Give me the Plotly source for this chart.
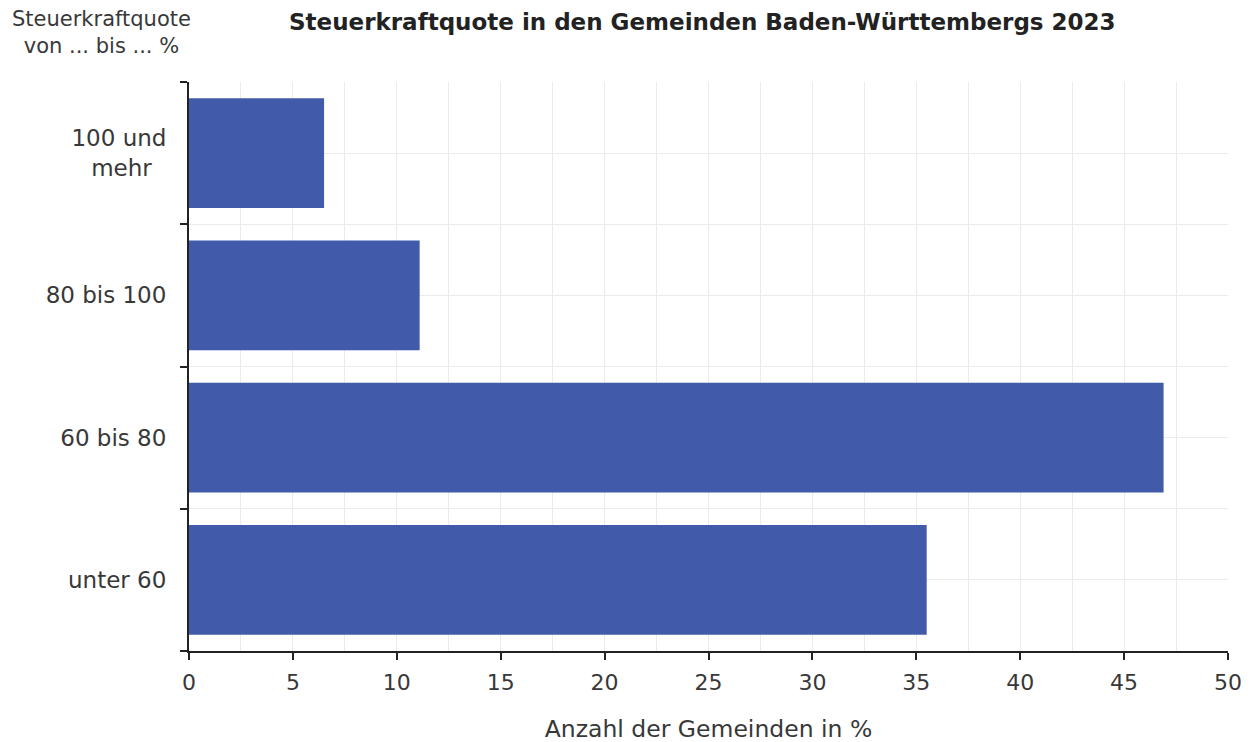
import plotly.graph_objects as go

categories = ["unter 60", "60 bis 80", "80 bis 100", "100 und<br>mehr\u00a0\u00a0"]
values = [35.5, 46.9, 11.1, 6.5]
x_ticks = [0, 5, 10, 15, 20, 25, 30, 35, 40, 45, 50]

positions = list(range(len(categories)))
boundaries = [p - 0.5 for p in positions] + [positions[-1] + 0.5]

FONT = "DejaVu Sans"
TXT = "#383838"
W, H = 1258, 742
OX, OY = 6, 8  # page offset observed in render

L, R, T, B = 187 - OX, 38, 82 - OY, 97
PW = W - L - R

fig = go.Figure(go.Bar(
    x=values, y=positions, orientation="h",
    marker=dict(color="#415AA9", line=dict(width=0)),
    width=0.77, hoverinfo="x+y",
))

fig.update_layout(
    width=W, height=H,
    margin=dict(l=L, r=R, t=T, b=B),
    paper_bgcolor="white", plot_bgcolor="white",
    font=dict(family=FONT, size=22, color=TXT),
    showlegend=False,
)

fig.update_xaxes(
    range=[0, 50], tickvals=x_ticks, ticks="outside", ticklen=7, tickwidth=2,
    tickcolor="#222222", showline=True, linecolor="#222222", linewidth=2,
    showgrid=True, gridcolor="#ebebeb", gridwidth=1, zeroline=False,
    minor=dict(dtick=2.5, showgrid=True, gridcolor="#ebebeb", gridwidth=1, ticks=""),
    tickfont=dict(size=22, color=TXT), ticklabelstandoff=4,
    title=dict(text="Anzahl der Gemeinden in %", font=dict(size=23.5, color=TXT), standoff=26),
)

fig.update_yaxes(
    range=[boundaries[0], boundaries[-1]], tickvals=positions, ticktext=categories,
    ticks="", showline=True, linecolor="#222222", linewidth=2,
    showgrid=True, gridcolor="#ebebeb", gridwidth=1, zeroline=False,
    minor=dict(tickvals=boundaries, ticks="outside", ticklen=7, tickwidth=2,
               tickcolor="#222222", showgrid=True, gridcolor="#ebebeb", gridwidth=1),
    tickfont=dict(size=23, color=TXT), ticklabelstandoff=16,
)

fig.add_annotation(
    text="<b>Steuerkraftquote in den Gemeinden Baden-Württembergs 2023</b>",
    xref="paper", yref="paper", x=(700 - 187) / PW, y=1, yshift=60,
    xanchor="center", yanchor="middle", showarrow=False,
    font=dict(family=FONT, size=23, color="#222222"),
)
fig.add_annotation(
    text="Steuerkraftquote<br>von ... bis ... %",
    xref="paper", yref="paper", x=(99 - 187) / PW, y=1, yshift=50,
    xanchor="center", yanchor="middle", align="center", showarrow=False,
    font=dict(family=FONT, size=21, color=TXT),
)

fig.write_html("out.html")
